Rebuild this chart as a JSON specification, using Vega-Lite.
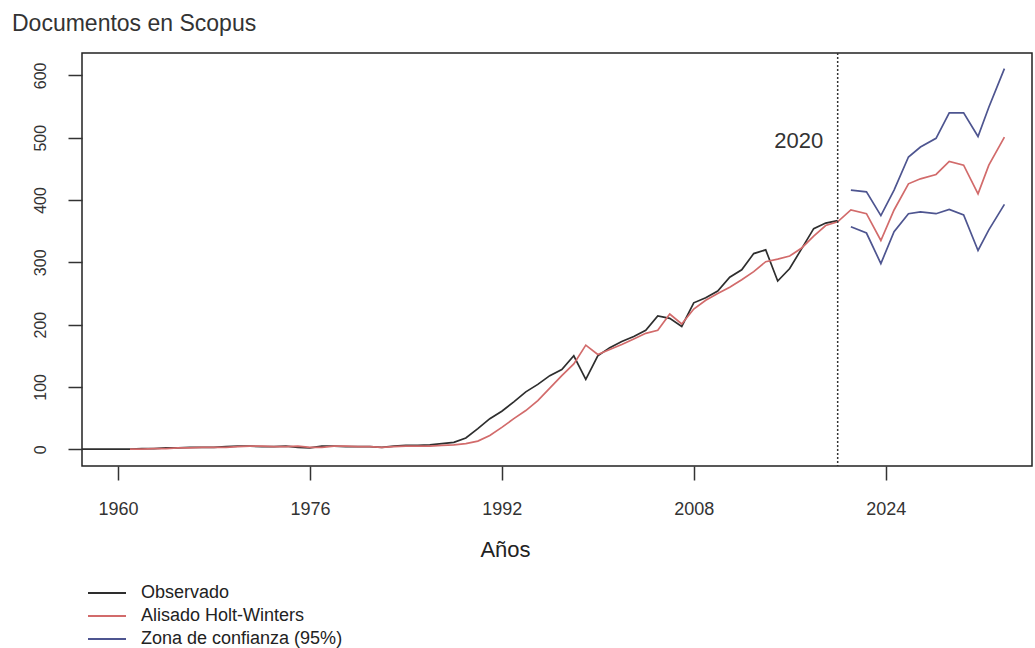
{
"$schema": "https://vega.github.io/schema/vega-lite/v6.json",
"width": 950, "height": 413,
"autosize": {"type": "none"},
"padding": {"left": 82, "top": 53, "right": 3, "bottom": 182},
"background": "white",
"title": {"text": "Documentos en Scopus", "anchor": "start", "frame": "group", "dx": -70, "dy": 23, "offset": 21, "baseline": "alphabetic", "fontSize": 23, "fontWeight": "normal", "color": "#333333", "font": "Liberation Sans"},
"config": {"view": {"stroke": "#222222", "strokeWidth": 1.5}, "font": "Liberation Sans"},
"datasets": {
"series": [
{"t":1957,"v":0,"s":"obs","g":"Observado"},{"t":1958,"v":0,"s":"obs","g":"Observado"},{"t":1959,"v":0,"s":"obs","g":"Observado"},{"t":1960,"v":0,"s":"obs","g":"Observado"},{"t":1961,"v":0,"s":"obs","g":"Observado"},{"t":1962,"v":1,"s":"obs","g":"Observado"},{"t":1963,"v":1,"s":"obs","g":"Observado"},{"t":1964,"v":2,"s":"obs","g":"Observado"},{"t":1965,"v":2,"s":"obs","g":"Observado"},{"t":1966,"v":3,"s":"obs","g":"Observado"},{"t":1967,"v":3,"s":"obs","g":"Observado"},{"t":1968,"v":3,"s":"obs","g":"Observado"},{"t":1969,"v":4,"s":"obs","g":"Observado"},{"t":1970,"v":5,"s":"obs","g":"Observado"},{"t":1971,"v":5,"s":"obs","g":"Observado"},{"t":1972,"v":4,"s":"obs","g":"Observado"},{"t":1973,"v":4,"s":"obs","g":"Observado"},{"t":1974,"v":5,"s":"obs","g":"Observado"},{"t":1975,"v":3,"s":"obs","g":"Observado"},{"t":1976,"v":2,"s":"obs","g":"Observado"},{"t":1977,"v":5,"s":"obs","g":"Observado"},{"t":1978,"v":5,"s":"obs","g":"Observado"},{"t":1979,"v":4,"s":"obs","g":"Observado"},{"t":1980,"v":4,"s":"obs","g":"Observado"},{"t":1981,"v":4,"s":"obs","g":"Observado"},{"t":1982,"v":3,"s":"obs","g":"Observado"},{"t":1983,"v":5,"s":"obs","g":"Observado"},{"t":1984,"v":6,"s":"obs","g":"Observado"},{"t":1985,"v":6,"s":"obs","g":"Observado"},{"t":1986,"v":7,"s":"obs","g":"Observado"},{"t":1987,"v":9,"s":"obs","g":"Observado"},{"t":1988,"v":11,"s":"obs","g":"Observado"},{"t":1989,"v":18,"s":"obs","g":"Observado"},{"t":1990,"v":33,"s":"obs","g":"Observado"},{"t":1991,"v":49,"s":"obs","g":"Observado"},{"t":1992,"v":61,"s":"obs","g":"Observado"},{"t":1993,"v":76,"s":"obs","g":"Observado"},{"t":1994,"v":92,"s":"obs","g":"Observado"},{"t":1995,"v":104,"s":"obs","g":"Observado"},{"t":1996,"v":118,"s":"obs","g":"Observado"},{"t":1997,"v":128,"s":"obs","g":"Observado"},{"t":1998,"v":150,"s":"obs","g":"Observado"},{"t":1999,"v":112,"s":"obs","g":"Observado"},{"t":2000,"v":150,"s":"obs","g":"Observado"},{"t":2001,"v":163,"s":"obs","g":"Observado"},{"t":2002,"v":173,"s":"obs","g":"Observado"},{"t":2003,"v":181,"s":"obs","g":"Observado"},{"t":2004,"v":191,"s":"obs","g":"Observado"},{"t":2005,"v":214,"s":"obs","g":"Observado"},{"t":2006,"v":210,"s":"obs","g":"Observado"},{"t":2007,"v":197,"s":"obs","g":"Observado"},{"t":2008,"v":235,"s":"obs","g":"Observado"},{"t":2009,"v":243,"s":"obs","g":"Observado"},{"t":2010,"v":254,"s":"obs","g":"Observado"},{"t":2011,"v":276,"s":"obs","g":"Observado"},{"t":2012,"v":288,"s":"obs","g":"Observado"},{"t":2013,"v":314,"s":"obs","g":"Observado"},{"t":2014,"v":320,"s":"obs","g":"Observado"},{"t":2015,"v":270,"s":"obs","g":"Observado"},{"t":2016,"v":290,"s":"obs","g":"Observado"},{"t":2017,"v":322,"s":"obs","g":"Observado"},{"t":2018,"v":354,"s":"obs","g":"Observado"},{"t":2019,"v":363,"s":"obs","g":"Observado"},{"t":2020,"v":367,"s":"obs","g":"Observado"},
{"t":1961,"v":0,"s":"hw","g":"Alisado Holt-Winters"},{"t":1962,"v":0,"s":"hw","g":"Alisado Holt-Winters"},{"t":1963,"v":1,"s":"hw","g":"Alisado Holt-Winters"},{"t":1964,"v":1,"s":"hw","g":"Alisado Holt-Winters"},{"t":1965,"v":2,"s":"hw","g":"Alisado Holt-Winters"},{"t":1966,"v":2,"s":"hw","g":"Alisado Holt-Winters"},{"t":1967,"v":3,"s":"hw","g":"Alisado Holt-Winters"},{"t":1968,"v":3,"s":"hw","g":"Alisado Holt-Winters"},{"t":1969,"v":3,"s":"hw","g":"Alisado Holt-Winters"},{"t":1970,"v":4,"s":"hw","g":"Alisado Holt-Winters"},{"t":1971,"v":5,"s":"hw","g":"Alisado Holt-Winters"},{"t":1972,"v":5,"s":"hw","g":"Alisado Holt-Winters"},{"t":1973,"v":4,"s":"hw","g":"Alisado Holt-Winters"},{"t":1974,"v":4,"s":"hw","g":"Alisado Holt-Winters"},{"t":1975,"v":5,"s":"hw","g":"Alisado Holt-Winters"},{"t":1976,"v":3,"s":"hw","g":"Alisado Holt-Winters"},{"t":1977,"v":3,"s":"hw","g":"Alisado Holt-Winters"},{"t":1978,"v":5,"s":"hw","g":"Alisado Holt-Winters"},{"t":1979,"v":5,"s":"hw","g":"Alisado Holt-Winters"},{"t":1980,"v":4,"s":"hw","g":"Alisado Holt-Winters"},{"t":1981,"v":4,"s":"hw","g":"Alisado Holt-Winters"},{"t":1982,"v":3,"s":"hw","g":"Alisado Holt-Winters"},{"t":1983,"v":4,"s":"hw","g":"Alisado Holt-Winters"},{"t":1984,"v":5,"s":"hw","g":"Alisado Holt-Winters"},{"t":1985,"v":5,"s":"hw","g":"Alisado Holt-Winters"},{"t":1986,"v":5,"s":"hw","g":"Alisado Holt-Winters"},{"t":1987,"v":6,"s":"hw","g":"Alisado Holt-Winters"},{"t":1988,"v":7,"s":"hw","g":"Alisado Holt-Winters"},{"t":1989,"v":9,"s":"hw","g":"Alisado Holt-Winters"},{"t":1990,"v":13,"s":"hw","g":"Alisado Holt-Winters"},{"t":1991,"v":22,"s":"hw","g":"Alisado Holt-Winters"},{"t":1992,"v":35,"s":"hw","g":"Alisado Holt-Winters"},{"t":1993,"v":49,"s":"hw","g":"Alisado Holt-Winters"},{"t":1994,"v":62,"s":"hw","g":"Alisado Holt-Winters"},{"t":1995,"v":78,"s":"hw","g":"Alisado Holt-Winters"},{"t":1996,"v":98,"s":"hw","g":"Alisado Holt-Winters"},{"t":1997,"v":118,"s":"hw","g":"Alisado Holt-Winters"},{"t":1998,"v":137,"s":"hw","g":"Alisado Holt-Winters"},{"t":1999,"v":167,"s":"hw","g":"Alisado Holt-Winters"},{"t":2000,"v":152,"s":"hw","g":"Alisado Holt-Winters"},{"t":2001,"v":160,"s":"hw","g":"Alisado Holt-Winters"},{"t":2002,"v":168,"s":"hw","g":"Alisado Holt-Winters"},{"t":2003,"v":177,"s":"hw","g":"Alisado Holt-Winters"},{"t":2004,"v":186,"s":"hw","g":"Alisado Holt-Winters"},{"t":2005,"v":191,"s":"hw","g":"Alisado Holt-Winters"},{"t":2006,"v":217,"s":"hw","g":"Alisado Holt-Winters"},{"t":2007,"v":201,"s":"hw","g":"Alisado Holt-Winters"},{"t":2008,"v":225,"s":"hw","g":"Alisado Holt-Winters"},{"t":2009,"v":239,"s":"hw","g":"Alisado Holt-Winters"},{"t":2010,"v":250,"s":"hw","g":"Alisado Holt-Winters"},{"t":2011,"v":260,"s":"hw","g":"Alisado Holt-Winters"},{"t":2012,"v":272,"s":"hw","g":"Alisado Holt-Winters"},{"t":2013,"v":285,"s":"hw","g":"Alisado Holt-Winters"},{"t":2014,"v":301,"s":"hw","g":"Alisado Holt-Winters"},{"t":2015,"v":305,"s":"hw","g":"Alisado Holt-Winters"},{"t":2016,"v":310,"s":"hw","g":"Alisado Holt-Winters"},{"t":2017,"v":323,"s":"hw","g":"Alisado Holt-Winters"},{"t":2018,"v":342,"s":"hw","g":"Alisado Holt-Winters"},{"t":2019,"v":359,"s":"hw","g":"Alisado Holt-Winters"},{"t":2020,"v":365,"s":"hw","g":"Alisado Holt-Winters"},
{"t":2021.1,"v":384,"s":"hw","g":"Alisado Holt-Winters"},{"t":2022.4,"v":378,"s":"hw","g":"Alisado Holt-Winters"},{"t":2023.6,"v":335,"s":"hw","g":"Alisado Holt-Winters"},{"t":2024.7,"v":384,"s":"hw","g":"Alisado Holt-Winters"},{"t":2025.9,"v":426,"s":"hw","g":"Alisado Holt-Winters"},{"t":2026.9,"v":434,"s":"hw","g":"Alisado Holt-Winters"},{"t":2028.2,"v":441,"s":"hw","g":"Alisado Holt-Winters"},{"t":2029.3,"v":462,"s":"hw","g":"Alisado Holt-Winters"},{"t":2030.5,"v":456,"s":"hw","g":"Alisado Holt-Winters"},{"t":2031.7,"v":410,"s":"hw","g":"Alisado Holt-Winters"},{"t":2032.6,"v":456,"s":"hw","g":"Alisado Holt-Winters"},{"t":2033.9,"v":501,"s":"hw","g":"Alisado Holt-Winters"},
{"t":2021.1,"v":416,"s":"sup","g":"Zona de confianza (95%)"},{"t":2022.4,"v":413,"s":"sup","g":"Zona de confianza (95%)"},{"t":2023.6,"v":375,"s":"sup","g":"Zona de confianza (95%)"},{"t":2024.7,"v":416,"s":"sup","g":"Zona de confianza (95%)"},{"t":2025.9,"v":469,"s":"sup","g":"Zona de confianza (95%)"},{"t":2026.9,"v":485,"s":"sup","g":"Zona de confianza (95%)"},{"t":2028.2,"v":499,"s":"sup","g":"Zona de confianza (95%)"},{"t":2029.3,"v":540,"s":"sup","g":"Zona de confianza (95%)"},{"t":2030.5,"v":540,"s":"sup","g":"Zona de confianza (95%)"},{"t":2031.7,"v":502,"s":"sup","g":"Zona de confianza (95%)"},{"t":2032.6,"v":549,"s":"sup","g":"Zona de confianza (95%)"},{"t":2033.9,"v":611,"s":"sup","g":"Zona de confianza (95%)"},
{"t":2021.1,"v":357,"s":"inf","g":"Zona de confianza (95%)"},{"t":2022.4,"v":347,"s":"inf","g":"Zona de confianza (95%)"},{"t":2023.6,"v":298,"s":"inf","g":"Zona de confianza (95%)"},{"t":2024.7,"v":349,"s":"inf","g":"Zona de confianza (95%)"},{"t":2025.9,"v":378,"s":"inf","g":"Zona de confianza (95%)"},{"t":2026.9,"v":381,"s":"inf","g":"Zona de confianza (95%)"},{"t":2028.2,"v":378,"s":"inf","g":"Zona de confianza (95%)"},{"t":2029.3,"v":385,"s":"inf","g":"Zona de confianza (95%)"},{"t":2030.5,"v":376,"s":"inf","g":"Zona de confianza (95%)"},{"t":2031.7,"v":319,"s":"inf","g":"Zona de confianza (95%)"},{"t":2032.6,"v":352,"s":"inf","g":"Zona de confianza (95%)"},{"t":2033.9,"v":393,"s":"inf","g":"Zona de confianza (95%)"}
],
"marca": [{"t": 2020}],
"etiqueta": [{"t": 2018.8, "v": 483, "txt": "2020"}]
},
"layer": [
{"data": {"name": "series"},
 "mark": {"type": "line", "strokeWidth": 1.7},
 "encoding": {
  "x": {"field": "t", "type": "quantitative", "scale": {"domain": [1957, 2036.2], "nice": false, "zero": false},
        "axis": {"values": [1960, 1976, 1992, 2008, 2024], "format": "d", "domain": false, "grid": false, "tickSize": 14, "tickColor": "#333333", "tickWidth": 1.5, "labelFontSize": 18, "labelColor": "#333333", "labelPadding": 20, "labelFont": "Liberation Sans", "title": "Años", "titleFontSize": 22, "titleFontWeight": "normal", "titleColor": "#222222", "titleFont": "Liberation Sans", "titleX": 423, "titleY": 90, "titleAlign": "center", "titleBaseline": "alphabetic"}},
  "y": {"field": "v", "type": "quantitative", "scale": {"domain": [-27, 636], "nice": false, "zero": false},
        "axis": {"values": [0, 100, 200, 300, 400, 500, 600], "domain": false, "grid": false, "tickSize": 14, "tickColor": "#333333", "tickWidth": 1.5, "labelFontSize": 16, "labelColor": "#333333", "labelAngle": 270, "labelAlign": "center", "labelBaseline": "alphabetic", "labelPadding": 23, "labelFont": "Liberation Sans", "title": null}},
  "color": {"field": "g", "type": "nominal",
            "scale": {"domain": ["Observado", "Alisado Holt-Winters", "Zona de confianza (95%)"], "range": ["#2e2e2e", "#d26b6b", "#4e5590"]},
            "legend": {"orient": "none", "legendX": 16, "legendY": 531, "title": null, "symbolType": "M-3.8,0H3.8", "symbolSize": 100, "symbolStrokeWidth": 1.8, "labelFontSize": 18, "labelOffset": 25, "rowPadding": 5, "labelColor": "#222222", "labelFont": "Liberation Sans", "labelLimit": 400}},
  "detail": {"field": "s"},
  "order": {"field": "t"}
 }},
{"data": {"name": "marca"},
 "mark": {"type": "rule", "strokeDash": [2, 2], "color": "#333333", "strokeWidth": 1.5},
 "encoding": {"x": {"field": "t", "type": "quantitative"}}},
{"data": {"name": "etiqueta"},
 "mark": {"type": "text", "align": "right", "baseline": "alphabetic", "fontSize": 22, "color": "#333333", "font": "Liberation Sans"},
 "encoding": {"x": {"field": "t", "type": "quantitative"}, "y": {"field": "v", "type": "quantitative"}, "text": {"field": "txt"}}}
]
}
